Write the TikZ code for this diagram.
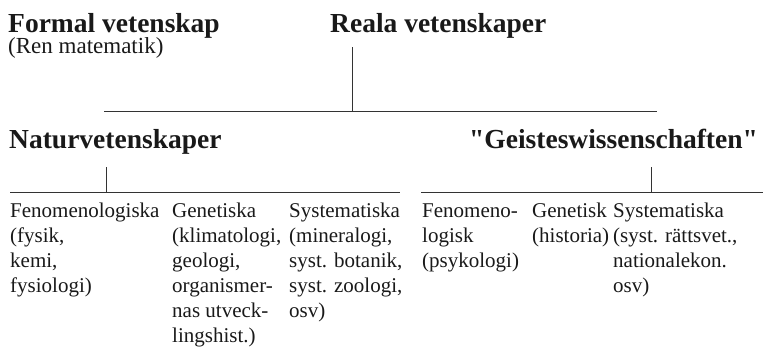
\documentclass[tikz,border=0pt]{standalone}
\usepackage{fontspec}
\setmainfont{Liberation Serif}[Ligatures=TeXOff]
\usetikzlibrary{positioning}

\tikzset{
  head/.style={font=\fontsize{27.5}{30}\selectfont\bfseries, inner sep=0pt, anchor=base west, text=black!90},
  col/.style={font=\fontsize{21}{25}\selectfont, inner sep=0pt, anchor=north west, align=left, text=black!90},
  rule/.style={line width=1pt, black!80},
}

\begin{document}
\begin{tikzpicture}[x=1pt,y=-1pt]
  \useasboundingbox (0,0) rectangle (763,354);

  \node[head] (formal) at (8,32) {Formal vetenskap};
  \node[col, font=\fontsize{23}{25}\selectfont] (ren) at (8,36) {\strut(Ren matematik)};
  \node[head] (reala) at (330,32) {Reala vetenskaper};

  \coordinate (realastem) at (352,47);
  \coordinate (realabar) at (352,111);
  \coordinate (barleft) at (104,111);
  \coordinate (barright) at (657,111);
  \draw[rule] (realastem) -- (realabar);
  \draw[rule] (barleft) -- (barright);

  \node[head] (natur) at (9,148) {Naturvetenskaper};
  \node[head] (geist) at (469,148) {"Geisteswissenschaften"};

  \coordinate (naturstem) at (106,167);
  \coordinate (naturbar) at (106,192);
  \coordinate (geiststem) at (651,167);
  \coordinate (geistbar) at (651,192);
  \draw[rule] (naturstem) -- (naturbar);
  \draw[rule] (geiststem) -- (geistbar);
  \draw[rule] (10,192) coordinate (naturl) -- (400,192) coordinate (naturr);
  \draw[rule] (421,192) coordinate (geistl) -- (763,192) coordinate (geistr);

  \node[col] (nfen) at (10,199.5) {\strut Fenomenologiska\\(fysik,\\kemi,\\fysiologi)};
  \node[col] (ngen) at (172,199.5) {\strut Genetiska\\(klimatologi,\\geologi,\\organismer-\\nas utveck-\\lingshist.)};
  \node[col] (nsys) at (289,199.5) {\strut Systematiska\\(mineralogi,\\syst. botanik,\\syst. zoologi,\\osv)};

  \node[col] (gfen) at (422,199.5) {\strut Fenomeno-\\logisk\\(psykologi)};
  \node[col] (ggen) at (532,199.5) {\strut Genetisk\\(historia)};
  \node[col] (gsys) at (613,199.5) {\strut Systematiska\\(syst. rättsvet.,\\nationalekon.\\osv)};
\end{tikzpicture}
\end{document}
